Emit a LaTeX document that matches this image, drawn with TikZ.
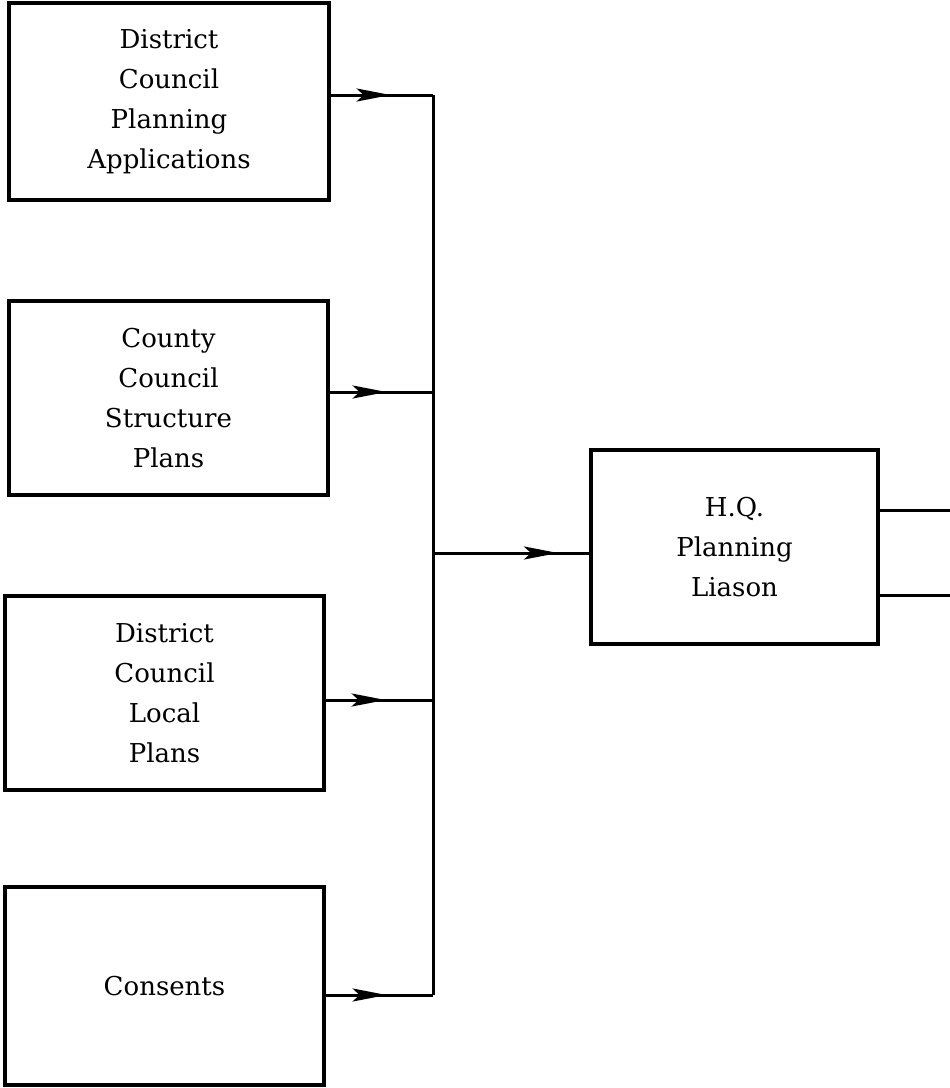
\documentclass[tikz,border=0pt]{standalone}
\usepackage{fontspec}
\setmainfont{DejaVu Serif}
\usetikzlibrary{arrows.meta,decorations.markings}
\begin{document}
\begin{tikzpicture}[x=1pt,y=-1pt,
  box/.style={draw,line width=3.2pt,align=center,inner sep=0pt,
    font=\fontsize{26}{40}\selectfont},
  wire/.style={line width=3pt},
  flow/.style={wire,postaction={decorate},
    decoration={markings,mark=at position #1 with
      {\arrow{Stealth[length=34pt,width=13pt,inset=7pt]}}}},
  flow/.default=60pt]
\useasboundingbox (0,0) rectangle (950,1088);
% source boxes
\node[box,minimum width=320pt,minimum height=197pt] (b1) at (169,101.5)
  {District\\Council\\Planning\\Applications};
\node[box,minimum width=319pt,minimum height=194pt] (b2) at (168.5,398)
  {County\\Council\\Structure\\Plans};
\node[box,minimum width=319pt,minimum height=194pt] (b3) at (164.5,693)
  {District\\Council\\Local\\Plans};
\node[box,minimum width=319pt,minimum height=198pt] (b4) at (164.5,986)
  {Consents};
% liaison box
\node[box,minimum width=287pt,minimum height=194pt] (hq) at (734.5,547)
  {H.Q.\\Planning\\Liason};
% collecting bus
\coordinate (j1) at (433,95);
\coordinate (j2) at (433,392);
\coordinate (j3) at (433,700);
\coordinate (j4) at (433,995);
\coordinate (jm) at (433,553);
\coordinate (o1) at (950,510);
\coordinate (o2) at (950,595);
\draw[wire] (j1) -- (j4);
\draw[flow] (j1 -| b1.east) -- (j1);
\draw[flow=57pt] (j2 -| b2.east) -- (j2);
\draw[flow] (j3 -| b3.east) -- (j3);
\draw[flow=61pt] (j4 -| b4.east) -- (j4);
\draw[flow=125pt] (jm) -- (jm -| hq.west);
% outgoing lines
\draw[wire] (o1 -| hq.east) -- (o1);
\draw[wire] (o2 -| hq.east) -- (o2);
\end{tikzpicture}
\end{document}
